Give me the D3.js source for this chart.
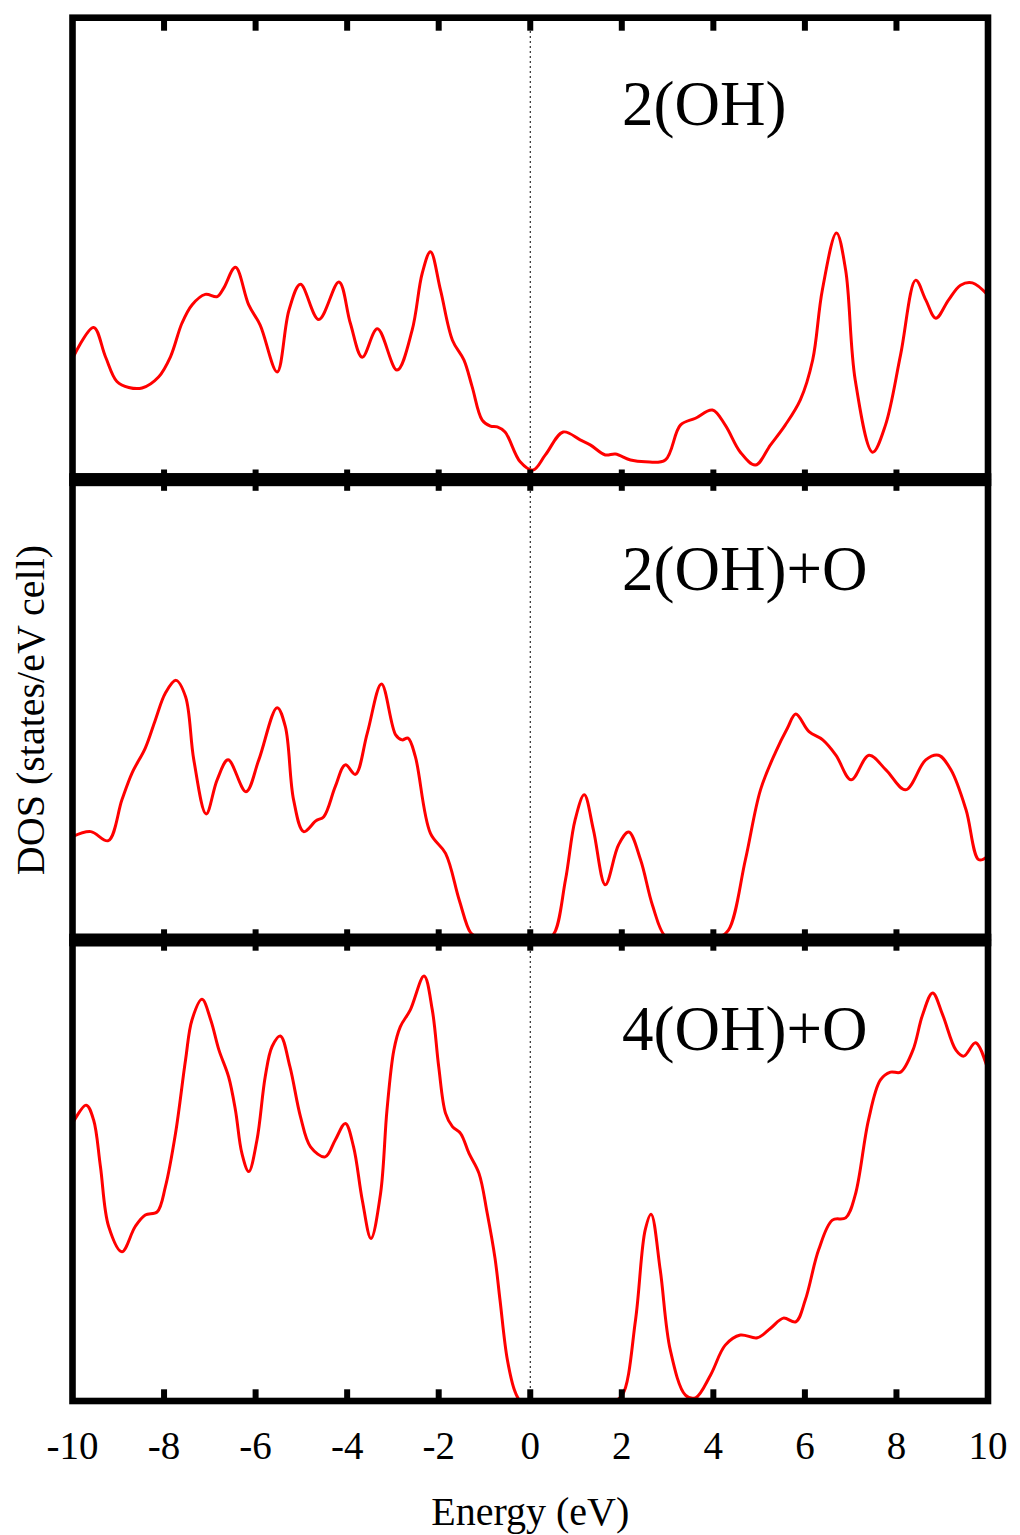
<!DOCTYPE html>
<html>
<head>
<meta charset="utf-8">
<script src="https://cdn.jsdelivr.net/npm/d3@7"></script>
<style>
  body { margin: 0; background: #fff; }
  text { font-family: "Liberation Serif", "Times New Roman", serif; fill: #000; }
</style>
</head>
<body>
<div id="chart"></div>
<script>
// DOS curves (energy in eV, DOS in arbitrary units 0..10)
const energy1 = [-10,-9.54,-9.28,-9.03,-8.77,-8.48,-8.12,-7.86,-7.61,-7.39,-7.1,-6.84,-6.7,-6.44,-6.15,-5.9,-5.53,-5.27,-5.02,-4.62,-4.18,-3.93,-3.67,-3.34,-2.91,-2.58,-2.36,-2.18,-1.96,-1.7,-1.45,-1.27,-1.05,-0.87,-0.72,-0.55,-0.22,0.06,0.33,0.72,1.09,1.31,1.64,1.86,2.19,2.51,2.95,3.28,3.61,3.98,4.26,4.59,4.92,5.25,5.57,5.9,6.17,6.38,6.69,6.89,7.1,7.48,7.76,8.09,8.42,8.64,8.86,9.14,9.4,9.66,10];
const dos1 = [2.57,3.25,2.61,2.07,1.94,1.93,2.17,2.61,3.34,3.74,3.97,3.92,4.1,4.56,3.74,3.3,2.28,3.63,4.19,3.42,4.24,3.34,2.6,3.22,2.32,3.19,4.43,4.9,4.06,2.97,2.54,1.96,1.23,1.1,1.08,0.97,0.32,0.14,0.47,0.97,0.8,0.69,0.47,0.49,0.36,0.32,0.36,1.12,1.27,1.45,1.12,0.53,0.25,0.69,1.12,1.67,2.54,4.06,5.31,4.5,2.1,0.53,1.12,2.65,4.28,3.85,3.45,3.85,4.17,4.22,3.95];

const energy2 = [-10,-9.6,-9.22,-8.92,-8.7,-8.41,-8.19,-7.97,-7.74,-7.53,-7.35,-7.08,-6.84,-6.6,-6.21,-5.93,-5.53,-5.35,-5.17,-4.95,-4.68,-4.51,-4.26,-4.04,-3.82,-3.56,-3.25,-2.94,-2.8,-2.67,-2.51,-2.18,-1.85,-1.55,-1.3,-1.15,0.3,0.5,0.77,0.98,1.18,1.38,1.64,1.93,2.15,2.41,2.67,2.95,3.2,4.1,4.33,4.7,5.03,5.36,5.62,5.8,6.09,6.39,6.68,7.01,7.4,7.77,8.2,8.64,8.92,9.19,9.52,9.8,10];
const dos2 = [2.21,2.32,2.12,3.02,3.61,4.16,4.78,5.37,5.65,5.29,3.9,2.71,3.46,3.9,3.2,3.9,5.05,4.63,3.02,2.32,2.56,2.65,3.31,3.79,3.58,4.49,5.57,4.45,4.34,4.38,3.97,2.28,1.84,0.81,0.09,0,0,0.05,1.26,2.58,3.13,2.36,1.15,2.03,2.31,1.7,0.7,0.02,0,0,0.15,1.7,3.24,4.07,4.6,4.91,4.52,4.34,4.0,3.46,4.0,3.68,3.24,3.9,4.0,3.68,2.8,1.7,1.78];

const energy3 = [-10,-9.7,-9.54,-9.39,-9.21,-8.92,-8.63,-8.41,-8.15,-7.97,-7.75,-7.53,-7.39,-7.17,-6.98,-6.8,-6.59,-6.44,-6.3,-6.15,-5.97,-5.79,-5.64,-5.46,-5.25,-5.02,-4.8,-4.48,-4.26,-4.04,-3.86,-3.67,-3.48,-3.27,-3.13,-2.98,-2.84,-2.62,-2.32,-2.14,-2.0,-1.85,-1.7,-1.52,-1.34,-1.12,-0.94,-0.77,-0.66,-0.5,-0.33,-0.2,1.8,2.01,2.3,2.51,2.64,2.84,3.06,3.39,3.61,3.94,4.26,4.59,4.96,5.25,5.53,5.8,6.01,6.3,6.6,6.89,7.1,7.39,7.65,7.87,8.09,8.36,8.57,8.79,9.01,9.3,9.47,9.73,10];
const dos3 = [6.06,6.46,6.14,5.12,3.81,3.26,3.81,4.06,4.13,4.68,5.84,7.45,8.32,8.77,8.32,7.66,7.08,6.35,5.41,5.01,5.7,7.08,7.74,7.97,7.3,6.21,5.55,5.33,5.7,6.06,5.55,4.39,3.55,4.53,6.35,7.66,8.17,8.54,9.28,8.54,7.3,6.28,5.99,5.84,5.41,4.97,4.1,3.12,2.2,0.9,0.2,0,0,0.13,1.77,3.73,4.08,2.86,1.11,0.13,0.07,0.57,1.22,1.44,1.38,1.59,1.81,1.73,2.21,3.3,3.95,4.0,4.5,6.14,7.01,7.18,7.18,7.66,8.43,8.91,8.43,7.66,7.53,7.82,7.23];

const panelNames = ["2(OH)", "2(OH)+O", "4(OH)+O"];
const xTicks = [-10, -8, -6, -4, -2, 0, 2, 4, 6, 8, 10];

const series = [
  { name: panelNames[0], e: energy1, d: dos1 },
  { name: panelNames[1], e: energy2, d: dos2 },
  { name: panelNames[2], e: energy3, d: dos3 }
];

const W = 1020, H = 1535;
// frame line centres of each panel, top and bottom
const frames = [[17.7, 476.5], [482.8, 937], [943, 1401]];
const tickIn = [[13, 7], [8, 7.7], [7.7, 11.7]];
const borderW = 6.6;

const svg = d3.select("#chart").append("svg")
    .attr("width", W)
    .attr("height", H);

const x = d3.scaleLinear().domain([-10, 10]).range([72.5, 988]);

const defs = svg.append("defs");

series.forEach(function(s, i) {
    const top = frames[i][0], bottom = frames[i][1];
    const y = d3.scaleLinear().domain([0, 10]).range([bottom, top]);

    defs.append("clipPath").attr("id", "clip" + i)
      .append("rect")
        .attr("x", x(-10)).attr("y", top)
        .attr("width", x(10) - x(-10)).attr("height", bottom - top);

    const line = d3.line()
        .x(function(k) { return x(s.e[k]); })
        .y(function(k) { return y(s.d[k]); })
        .curve(d3.curveCatmullRom.alpha(0.5));

    svg.append("path")
        .attr("clip-path", "url(#clip" + i + ")")
        .attr("d", line(d3.range(s.e.length)))
        .style("fill", "none")
        .style("stroke", "#ff0000")
        .style("stroke-width", 3)
        .style("stroke-linejoin", "round");

    // frame
    svg.append("rect")
        .attr("x", x(-10)).attr("y", top)
        .attr("width", x(10) - x(-10)).attr("height", bottom - top)
        .style("fill", "none")
        .style("stroke", "#000")
        .style("stroke-width", borderW);

    // inward ticks, top and bottom
    const inner = xTicks.slice(1, -1);
    svg.append("g").selectAll("line.tt")
      .data(inner).enter().append("line")
        .attr("x1", function(d) { return x(d); })
        .attr("x2", function(d) { return x(d); })
        .attr("y1", top)
        .attr("y2", top + tickIn[i][0])
        .style("stroke", "#000").style("stroke-width", 6);
    svg.append("g").selectAll("line.bt")
      .data(inner).enter().append("line")
        .attr("x1", function(d) { return x(d); })
        .attr("x2", function(d) { return x(d); })
        .attr("y1", bottom)
        .attr("y2", bottom - tickIn[i][1])
        .style("stroke", "#000").style("stroke-width", 6);

    svg.append("text")
        .attr("x", 622)
        .attr("y", top + 107)
        .style("font-size", "63px")
        .text(s.name);
});

// solid dividers between panels
[[476.5, 482.8], [937, 943]].forEach(function(p) {
    svg.append("rect")
        .attr("x", x(-10) - borderW / 2)
        .attr("y", p[0] - borderW / 2)
        .attr("width", x(10) - x(-10) + borderW)
        .attr("height", p[1] - p[0] + borderW)
        .style("fill", "#000");
});

// Fermi level
svg.append("line")
    .attr("x1", x(0)).attr("x2", x(0))
    .attr("y1", frames[0][0] + borderW / 2)
    .attr("y2", frames[2][1] - borderW / 2)
    .style("stroke", "#000")
    .style("stroke-width", 1)
    .style("stroke-dasharray", "2,3");

// tick labels along the bottom
svg.append("g").selectAll("text")
    .data(xTicks).enter().append("text")
      .attr("x", function(d) { return x(d); })
      .attr("y", 1459)
      .attr("text-anchor", "middle")
      .style("font-size", "39px")
      .text(function(d) { return d; });

svg.append("text")
    .attr("x", x(0))
    .attr("y", 1525)
    .attr("text-anchor", "middle")
    .style("font-size", "40px")
    .text("Energy (eV)");

svg.append("text")
    .attr("transform", "translate(44,710) rotate(-90)")
    .attr("text-anchor", "middle")
    .style("font-size", "40px")
    .text("DOS (states/eV cell)");
</script>
</body>
</html>
